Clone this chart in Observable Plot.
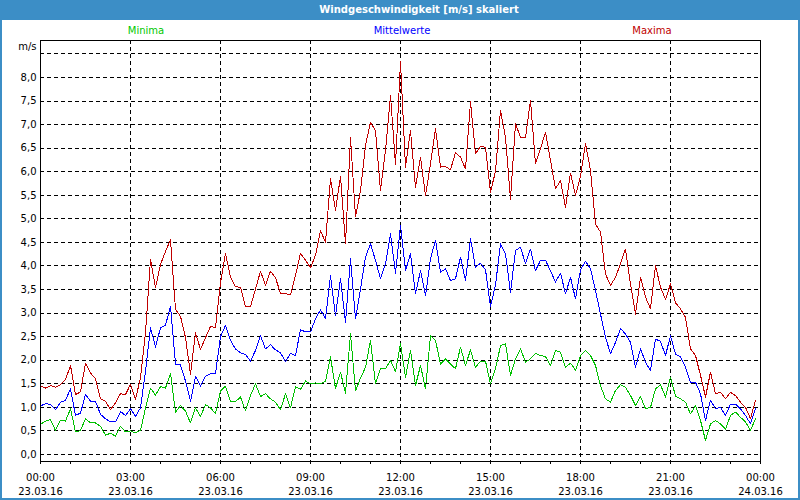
<!DOCTYPE html>
<html>
<head>
<meta charset="utf-8">
<script src="https://cdn.jsdelivr.net/npm/d3@7"></script>
<script src="https://cdn.jsdelivr.net/npm/@observablehq/plot@0.6"></script>
<style>
  html, body { margin: 0; padding: 0; background: #fff; }
  #win { position: relative; width: 800px; height: 500px; overflow: hidden; background: #fff; font-family: "DejaVu Sans", sans-serif; }
  #chart { position: absolute; left: 0; top: 0; }
  #titlebar { position: absolute; left: 0; top: 0; width: 800px; height: 20px; background: #3c8ec6; }
  #title { position: absolute; top: 0; left: 419px; transform: translateX(-50%); white-space: nowrap; color: #fff; font-weight: bold; font-size: 10px; line-height: 20px; }
  .leg { position: absolute; top: 25px; transform: translateX(-50%); white-space: nowrap; font-size: 10px; line-height: 12px; }
  #border { position: absolute; inset: 0; border: 2px solid #3c8ec6; box-sizing: border-box; pointer-events: none; }
</style>
</head>
<body>
<div id="win">
  <div id="chart"></div>
  <div id="titlebar"></div>
  <div id="title"></div>
  <div id="legMin" class="leg" style="left:146px;color:#00c800"></div>
  <div id="legMean" class="leg" style="left:402px;color:#0000ff"></div>
  <div id="legMax" class="leg" style="left:652px;color:#c00000"></div>
  <div id="border"></div>
</div>
<script>
const titleText = "Windgeschwindigkeit [m/s] skaliert";
const seriesNames = ["Minima", "Mittelwerte", "Maxima"];
const seriesColors = ["#00c000", "#0000ff", "#c00000"];

const maxima = [
1.46,1.41,1.46,1.43,1.48,1.59,1.89,1.27,1.33,1.94,1.73,1.61,1.18,1.13,0.95,1.10,1.29,1.27,1.49,1.17,
1.63,2.58,4.14,3.54,4.03,4.31,4.56,3.08,2.93,2.48,1.70,2.58,2.23,2.48,2.72,2.69,3.65,4.27,3.76,3.56,
3.55,3.13,3.14,3.51,3.89,3.59,3.89,3.75,3.42,3.41,3.39,3.80,4.27,4.12,3.96,4.23,4.75,4.50,5.85,5.18,
5.90,4.47,6.73,5.04,5.60,6.56,7.05,6.87,5.60,6.45,7.62,6.15,8.33,6.10,6.87,5.67,6.31,5.49,6.17,6.91,
6.10,6.11,6.04,6.41,6.31,6.06,7.48,6.38,6.54,6.52,5.57,6.01,7.30,6.73,5.42,7.02,6.73,6.73,7.51,6.17,
6.49,6.84,6.24,5.64,5.81,5.25,5.97,5.50,5.90,6.60,6.03,4.89,4.72,3.83,3.59,3.76,4.05,4.36,3.62,2.98,
3.76,3.34,3.09,4.01,3.55,3.29,3.62,3.22,3.09,2.91,2.24,2.10,1.68,1.22,1.75,1.29,1.32,1.18,1.32,1.25,
1.11,1.00,0.76,1.15];

const mittelwerte = [
1.03,1.08,1.06,0.95,1.11,1.15,1.39,0.83,0.88,1.27,1.13,1.13,0.85,0.76,0.69,0.69,0.91,0.83,0.97,0.81,
0.99,1.77,2.69,2.28,2.69,2.74,3.15,1.92,1.90,1.56,1.13,1.66,1.45,1.66,1.71,1.72,2.50,2.74,2.42,2.24,
2.16,2.12,1.98,2.21,2.52,2.24,2.33,2.22,2.16,1.97,2.15,2.10,2.65,2.60,2.60,2.88,3.07,2.88,3.80,2.95,
3.73,2.81,4.15,2.88,3.51,4.19,4.47,4.12,3.73,4.05,4.68,3.85,4.86,3.90,4.26,3.41,3.90,3.37,4.15,4.55,
3.87,3.94,3.69,3.73,4.19,3.69,4.58,3.97,4.06,3.92,3.14,3.60,4.47,4.26,3.44,4.33,4.40,4.05,4.36,3.90,
4.12,4.12,3.90,3.66,3.85,3.41,3.76,3.30,3.92,4.10,3.94,3.48,2.98,2.49,2.14,2.38,2.67,2.56,2.38,1.85,
2.24,1.96,1.78,2.45,2.40,2.10,2.52,2.13,2.07,1.85,1.53,1.53,1.29,0.72,1.15,0.97,1.00,0.83,1.07,1.07,
0.97,0.83,0.65,0.97];

const minima = [
0.64,0.71,0.74,0.51,0.73,0.71,0.97,0.48,0.51,0.76,0.67,0.67,0.60,0.41,0.45,0.39,0.60,0.48,0.50,0.46,
0.51,0.99,1.41,1.26,1.44,1.41,1.72,0.90,1.04,0.92,0.67,0.99,0.81,1.06,0.99,0.87,1.35,1.45,1.12,1.12,
1.22,0.93,1.25,1.50,1.23,1.29,1.18,1.11,0.95,1.29,0.99,1.44,1.38,1.56,1.50,1.52,1.50,1.55,2.07,1.40,
1.75,1.30,2.56,1.35,1.62,1.85,2.42,1.50,1.82,1.82,2.00,1.76,2.35,1.64,2.21,1.46,1.89,1.39,2.52,2.42,
1.92,2.03,1.92,1.82,2.28,1.89,2.22,1.85,1.98,1.98,1.50,1.82,2.31,2.35,1.68,2.03,2.24,1.96,2.03,2.15,
2.10,2.08,1.89,2.21,2.17,1.85,1.94,1.79,2.10,2.21,2.10,1.89,1.46,1.18,1.11,1.36,1.48,1.43,1.25,1.04,
1.23,0.97,1.00,1.39,1.48,1.22,1.64,1.24,1.18,1.11,0.86,1.04,0.72,0.30,0.65,0.72,0.65,0.54,0.83,0.90,
0.79,0.69,0.51,0.76];

// time axis: 10-minute samples starting 23.03.2016 00:00
const start = new Date(Date.UTC(2016, 2, 23, 0, 0));
const end = new Date(Date.UTC(2016, 2, 24, 0, 0));
const times = maxima.map((_, i) => new Date(start.getTime() + i * 600000));

const yTicks = [0,0.5,1,1.5,2,2.5,3,3.5,4,4.5,5,5.5,6,6.5,7,7.5,8];
const yGrid = [...yTicks, 8.5];
const xLabelHours = [0,3,6,9,12,15,18,21,24];
const xGridHours = [3,6,9,12,15,18,21];
const xMinorHours = d3.range(0, 25);
const hoursToDate = h => new Date(start.getTime() + h * 3600000);

const rows = times.map((t, i) => ({t, min: minima[i], mean: mittelwerte[i], max: maxima[i]}));

const fmtTime = d3.utcFormat("%H:%M");
const fmtDate = d3.utcFormat("%d.%m.%y");

const chart = Plot.plot({
  width: 800,
  height: 500,
  marginTop: 40,
  marginBottom: 39,
  marginLeft: 40,
  marginRight: 40,
  style: {fontFamily: "DejaVu Sans, sans-serif", fontSize: "10px", background: "transparent", color: "#000", overflow: "visible"},
  x: {type: "utc", domain: [start, end]},
  y: {domain: [-0.1485, 8.785]},
  marks: [
    Plot.gridY(yGrid, {stroke: "#000", strokeOpacity: 1, strokeDasharray: "4,3", shapeRendering: "crispEdges"}),
    Plot.gridX(xGridHours.map(hoursToDate), {stroke: "#000", strokeOpacity: 1, strokeDasharray: "4,3", shapeRendering: "crispEdges"}),
    Plot.line(rows, {x: "t", y: "min", stroke: seriesColors[0], strokeWidth: 1, shapeRendering: "crispEdges"}),
    Plot.line(rows, {x: "t", y: "mean", stroke: seriesColors[1], strokeWidth: 1, shapeRendering: "crispEdges"}),
    Plot.line(rows, {x: "t", y: "max", stroke: seriesColors[2], strokeWidth: 1, shapeRendering: "crispEdges"}),
    Plot.frame({stroke: "#000", shapeRendering: "crispEdges"}),
    Plot.axisY(yTicks, {tickSize: 0, tickPadding: 4, label: null, tickFormat: d => d.toFixed(1).replace(".", ",")}),
    Plot.axisY([8.5], {tickSize: 0, tickPadding: 4, label: null, dy: -7, tickFormat: () => "m/s"}),
    Plot.axisX(xMinorHours.map(hoursToDate), {tickSize: 3, label: null, tickFormat: () => "", shapeRendering: "crispEdges"}),
    Plot.axisX(xLabelHours.map(hoursToDate), {tickSize: 3, tickPadding: 6, label: null, lineHeight: 1.45, tickFormat: d => fmtTime(d) + "\n" + fmtDate(d), shapeRendering: "crispEdges"})
  ]
});
document.getElementById("chart").appendChild(chart);
document.getElementById("title").textContent = titleText;
document.getElementById("legMin").textContent = seriesNames[0];
document.getElementById("legMean").textContent = seriesNames[1];
document.getElementById("legMax").textContent = seriesNames[2];
</script>
</body>
</html>
